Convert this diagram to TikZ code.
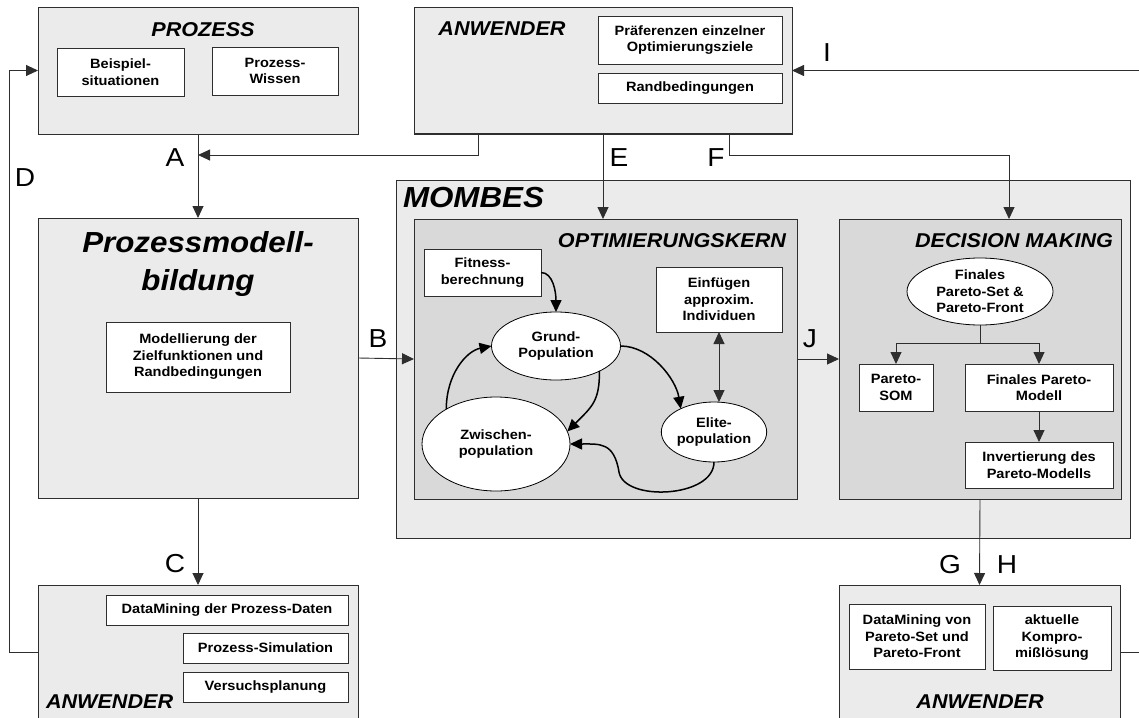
\documentclass[tikz,border=0pt]{standalone}
\usepackage{fontspec}
\setmainfont{Liberation Sans}[FakeStretch=1.08]
\usetikzlibrary{positioning,arrows.meta,shapes.geometric,calc}
\definecolor{boxgray}{gray}{0.92}
\definecolor{coregray}{gray}{0.85}
\definecolor{linegray}{gray}{0.18}

\begin{document}
\begin{tikzpicture}[x=1pt,y=-1pt,
  every node/.style={inner sep=0pt,outer sep=0pt},
  outer/.style={draw=linegray,fill=boxgray,line width=0.8pt},
  core/.style={draw=linegray,fill=coregray,line width=0.8pt},
  box/.style={draw=linegray,fill=white,line width=0.8pt,align=center,font=\bfseries\fontsize{13.5}{16.5}\selectfont},
  pop/.style={ellipse,draw=black,fill=white,line width=0.8pt,align=center,font=\bfseries\fontsize{13.5}{16.5}\selectfont},
  title/.style={font=\bfseries\itshape\fontsize{20}{24}\selectfont},
  tag/.style={font=\fontsize{26}{26}\selectfont},
  >={Triangle[length=12pt,width=11pt]},
  link/.style={->,draw=linegray,line width=0.9pt},
  flow/.style={->,line width=1.5pt}
]
  \useasboundingbox (0,0) rectangle (1139,717);
  \clip (0,0) rectangle (1139,717);

  % top row
  \node[outer,minimum width=320pt,minimum height=127pt] (proz) at (198,70.5) {};
  \node[title,anchor=base] (prozT) at (203,37) {PROZESS};
  \node[box,minimum width=127pt,minimum height=48pt] (beisp) at (120.5,72) {Beispiel-\\situationen};
  \node[box,minimum width=126pt,minimum height=48pt] (wissen) at (275,71) {Prozess-\\Wissen};

  \node[outer,minimum width=378pt,minimum height=127pt] (anwT) at (603,70.5) {};
  \draw[linegray,line width=1.6pt] (anwT.south west) -- (anwT.south east);
  \node[title,anchor=base] (anwTT) at (502,36) {ANWENDER};
  \node[box,minimum width=184pt,minimum height=48pt] (praef) at (690,40) {Präferenzen einzelner\\Optimierungsziele};
  \node[box,minimum width=184pt,minimum height=30pt] (randT) at (690,88) {Randbedingungen};

  % left column
  \node[outer,minimum width=320pt,minimum height=280pt] (pmb) at (198,358) {};
  \node[align=center,font=\bfseries\itshape\fontsize{29}{38}\selectfont] (pmbT) at (198,264) {Prozessmodell-\\bildung};
  \node[box,minimum width=184pt,minimum height=70pt] (modell) at (198,357) {Modellierung der\\Zielfunktionen und\\Randbedingungen};

  \node[outer,minimum width=320pt,minimum height=160pt] (anwL) at (198,665) {};
  \node[title,anchor=base west] (anwLT) at (46,708) {ANWENDER};
  \node[box,minimum width=242pt,minimum height=30pt] (dmP) at (227,610) {DataMining der Prozess-Daten};
  \node[box,minimum width=165pt,minimum height=30pt] (sim) at (265.5,648) {Prozess-Simulation};
  \node[box,minimum width=165pt,minimum height=30pt] (vers) at (265.5,687) {Versuchsplanung};

  % MOMBES
  \node[outer,minimum width=734pt,minimum height=358pt] (mombes) at (763,359) {};
  \node[anchor=base west,font=\bfseries\itshape\fontsize{29}{34}\selectfont] (mombesT) at (403,207) {MOMBES};

  % optimierungskern
  \node[core,minimum width=383pt,minimum height=280pt] (optk) at (605.5,359) {};
  \node[title,anchor=base east] (optkT) at (786,247) {OPTIMIERUNGSKERN};
  \node[box,minimum width=117pt,minimum height=47pt] (fitness) at (482.5,272.5) {Fitness-\\berechnung};
  \node[box,minimum width=126pt,minimum height=65pt] (einf) at (719,299.5) {Einfügen\\approxim.\\Individuen};
  \node[pop,minimum width=129pt,minimum height=68pt] (grund) at (556,346) {Grund-\\Population};
  \node[pop,minimum width=148pt,minimum height=94pt] (zwisch) at (496,444) {Zwischen-\\population};
  \node[pop,minimum width=98pt,minimum height=60pt] (elite) at (714,432) {Elite-\\population};

  % decision making
  \node[core,minimum width=282pt,minimum height=280pt] (dm) at (980,359) {};
  \node[title,anchor=base east] (dmT) at (1113,247) {DECISION MAKING};
  \node[pop,minimum width=146pt,minimum height=67pt] (fps) at (980,291.5) {Finales\\Pareto-Set \&\\Pareto-Front};
  \node[box,minimum width=74pt,minimum height=47pt] (psom) at (896,387.5) {Pareto-\\SOM};
  \node[box,minimum width=148pt,minimum height=47pt] (fpm) at (1039,387.5) {Finales Pareto-\\Modell};
  \node[box,minimum width=148pt,minimum height=46pt] (inv) at (1039,465) {Invertierung des\\Pareto-Modells};

  % bottom right
  \node[outer,minimum width=281pt,minimum height=160pt] (anwR) at (979.5,665) {};
  \node[title,anchor=base] (anwRT) at (980,708) {ANWENDER};
  \node[box,minimum width=136pt,minimum height=65pt] (dmR) at (917,636.5) {DataMining von\\Pareto-Set und\\Pareto-Front};
  \node[box,minimum width=118pt,minimum height=64pt] (akt) at (1052,638) {aktuelle\\Kompro-\\mißlösung};

  % letters
  \node[tag,anchor=base] (lA) at (175,166) {A};
  \node[tag,anchor=base] (lB) at (378,347) {B};
  \node[tag,anchor=base] (lC) at (175,572) {C};
  \node[tag,anchor=base] (lD) at (25,186) {D};
  \node[tag,anchor=base] (lE) at (619,166) {E};
  \node[tag,anchor=base] (lF) at (716,166) {F};
  \node[tag,anchor=base] (lG) at (950,573) {G};
  \node[tag,anchor=base] (lH) at (1007,573) {H};
  \node[tag,anchor=base] (lI) at (827,62) {I};
  \node[tag,anchor=base] (lJ) at (810,347) {J};

  % connectors
  \coordinate (jA) at ($(proz.south)+(0,21)$);
  \draw[link] (proz.south) -- (pmb.north);
  \draw[link] ($(anwT.south west)+(64,0)$) |- (jA);
  \draw[link] (pmb.east) -- (optk.west);
  \draw[link] (pmb.south) -- (anwL.north);
  \draw[link] ($(anwL.north west)+(0,67)$) -- ++(-29,0) |- (proz.west);
  \draw[link] (anwT.south) -- (anwT.south |- optk.north);
  \draw[link] ($(anwT.south west)+(315,0)$) -- ++(0,21) -| ($(dm.north)+(29,0)$);
  \draw[link] ($(anwR.north east)+(0,67)$) -- ++(40,0) |- (anwT.east);
  \draw[link] (optk.east) -- (dm.west);
  \draw[link] (dm.south) -- (anwR.north);
  \draw[link] (fps.south) -- ++(0,18) coordinate (split) -| (psom.north);
  \draw[link] (split) -| (fpm.north);
  \draw[link] (fpm.south) -- (inv.north);
  \draw[link,<->] (einf.south) -- (einf.south |- elite.north);

  % population cycle
  \draw[flow] (fitness.east) .. controls +(12,0) and +(0,-20) .. (grund.north);
  \draw[flow] (grund.east) .. controls +(30,0) and +(-5,-30) .. (elite.145);
  \draw[flow] (grund.-30) .. controls +(0,30) and +(25,-25) .. (zwisch.10);
  \draw[flow] (zwisch.145) .. controls +(0,-35) and +(-25,5) .. (grund.west);
  \draw[flow] (elite.south) .. controls +(0,36) and +(5,30) .. (619,472)
    .. controls +(-5,-30) and +(30,0) .. (zwisch.east);
\end{tikzpicture}
\end{document}
